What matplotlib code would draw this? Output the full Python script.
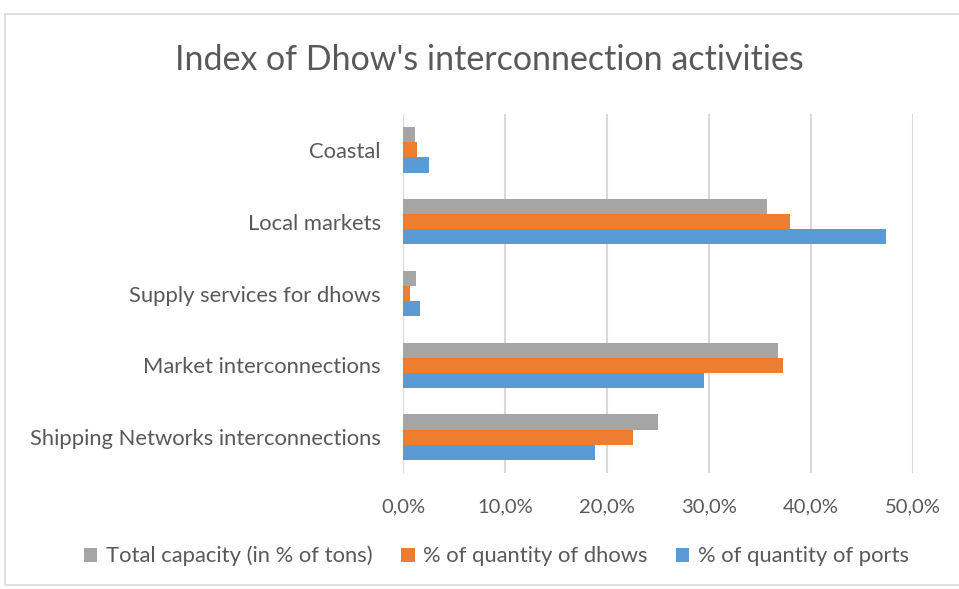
import matplotlib.pyplot as plt
import numpy as np
from matplotlib.patches import Rectangle
from matplotlib.ticker import FuncFormatter

categories = [
    "Shipping Networks interconnections",
    "Market interconnections",
    "Supply services for dhows",
    "Local markets",
    "Coastal",
]
total_capacity = [25.0, 36.8, 1.3, 35.7, 1.2]
qty_dhows = [22.5, 37.3, 0.7, 37.9, 1.4]
qty_ports = [18.8, 29.5, 1.7, 47.4, 2.5]
x_ticks = [0, 10, 20, 30, 40, 50]

series = [
    ("Total capacity (in % of tons)", total_capacity, "#A5A5A5"),
    ("% of quantity of dhows", qty_dhows, "#ED7D31"),
    ("% of quantity of ports", qty_ports, "#5B9BD5"),
]

plt.rcParams["font.family"] = ["Lato", "DejaVu Sans"]
text_color = "#595959"

fig = plt.figure(figsize=(9.59, 5.89), dpi=100)
fig.patches.append(Rectangle((5 / 959, 4 / 589), 960 / 959, 571 / 589, transform=fig.transFigure,
                             fill=False, edgecolor="#d9d9d9", linewidth=1.2))
ax = fig.add_axes([403 / 959, 1 - 473 / 589, 510 / 959, 359 / 589])

y = np.arange(len(categories))
h = 0.21
offsets = [h, 0, -h]
for (label, vals, color), off in zip(series, offsets):
    ax.barh(y + off, vals, height=h, color=color, label=label, zorder=3)

ax.set_xlim(0, 50)
ax.set_ylim(-0.5, len(categories) - 0.5)
ax.set_xticks(x_ticks)
ax.xaxis.set_major_formatter(FuncFormatter(lambda v, _: f"{v:.1f}%".replace(".", ",")))
ax.set_yticks(y)
ax.set_yticklabels(categories)
ax.tick_params(axis="both", length=0, colors=text_color)
ax.tick_params(axis="x", pad=18, labelsize=14.5)
ax.tick_params(axis="y", pad=16, labelsize=15.8)
ax.grid(axis="x", color="#d9d9d9", linewidth=1.5, zorder=0)
for s in ax.spines.values():
    s.set_visible(False)

fig.text(489 / 959, 1 - 60 / 589, "Index of Dhow's interconnection activities", ha="center", va="center",
         fontsize=24.5, color=text_color)

handles, labels = ax.get_legend_handles_labels()
fig.legend(handles, labels, loc="center", bbox_to_anchor=(0.518, 1 - 556 / 589), ncol=3, frameon=False,
           fontsize=15.8, labelcolor=text_color, handlelength=0.6, handleheight=0.6, handletextpad=0.4,
           columnspacing=1.3)

fig.savefig("out.png", dpi=100)
